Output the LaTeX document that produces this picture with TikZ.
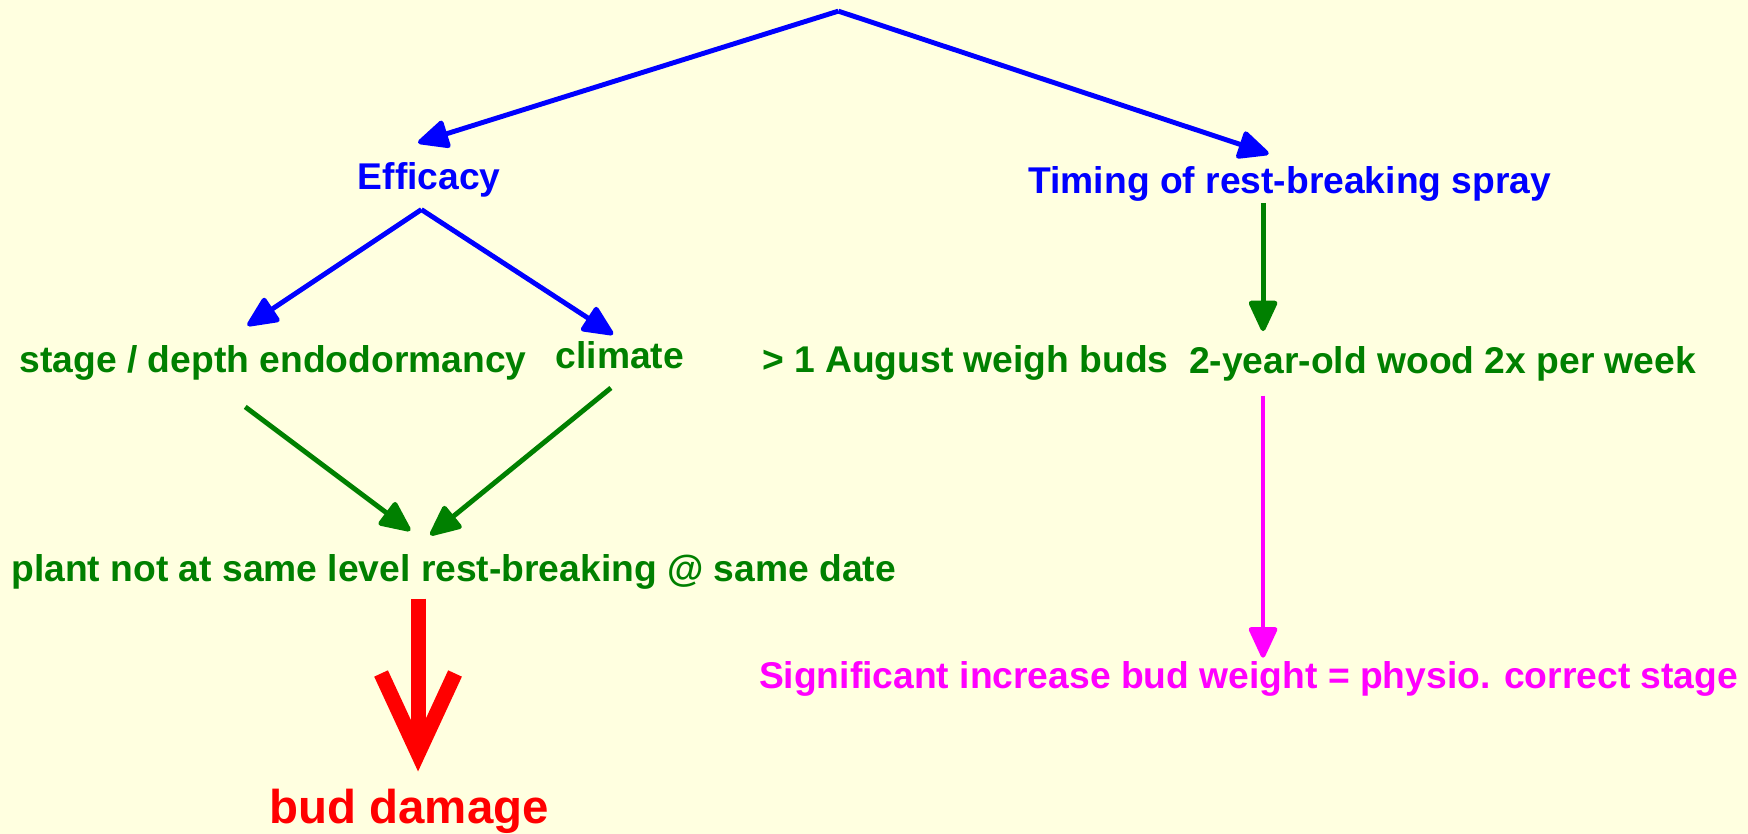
\documentclass[tikz,border=0pt]{standalone}
\usepackage{fontspec}
\setmainfont{Liberation Sans}
\usetikzlibrary{arrows.meta,calc}
\definecolor{bgyellow}{RGB}{255,255,224}
\definecolor{leafgreen}{RGB}{0,128,0}
\definecolor{pink}{RGB}{255,0,255}

\begin{document}
\begin{tikzpicture}
        [x=0.011148cm, y=-0.011148cm,
        every node/.style={font=\fontsize{10.6}{12}\selectfont\bfseries, inner sep=0pt},
        tip/.style={-{Triangle[length=3.4mm,width=3mm,round]}},
        bluelink/.style={draw=blue, line width=1.4pt, tip},
        greenlink/.style={draw=leafgreen, line width=1.4pt, tip},
        pinklink/.style={draw=pink, line width=1.3pt, tip},
        redlink/.style={draw=red, line width=4.3pt, -{Straight Barb[length=8mm,width=7.4mm]}}]
        \useasboundingbox (0,0) rectangle (1568,748);
        \fill[bgyellow] (0,0) rectangle (1568,748);
        \coordinate (top) at (752,10);
        \node[text=blue] (eff) at (385,161) {Efficacy};
        \node[text=blue] (timing) at (1157,165) {Timing of rest-breaking spray};
        \node[text=leafgreen] (stage) at (245,326) {stage / depth endodormancy};
        \node[text=leafgreen] (climate) at (556,319) {climate};
        \node[text=leafgreen] (plant) at (407,513) {plant not at same level rest-breaking @ same date};
        \node[text=red, font=\fontsize{13.5}{16}\selectfont\bfseries] (bud) at (367,728) {bud damage};
        \node[text=leafgreen] (weigh) at (866,326) {> 1 August weigh buds};
        \node[text=leafgreen] (wood) at (1294,326) {2-year-old wood 2x per week};
        \node[text=pink] (sig) at (1120,609) {Significant increase bud weight = physio. correct stage};
        % top split
        \draw[bluelink] (top) -- ($(eff)+(-10,-33)$);
        \draw[bluelink] (top) -- ($(timing)+(-19,-27)$);
        % efficacy branch
        \draw[bluelink] ($(eff)+(-7,27)$) -- ($(stage)+(-23,-34)$);
        \draw[bluelink] ($(eff)+(-7,27)$) -- ($(climate)+(-6,-19)$);
        \draw[greenlink] ($(stage)+(-25,39)$) -- ($(plant)+(-39,-37)$);
        \draw[greenlink] ($(climate)+(-8,29)$) -- ($(plant)+(-21,-33)$);
        \draw[redlink] ($(plant)+(-32,24)$) -- ($(bud)+(8,-36)$);
        % timing branch
        \draw[greenlink] ($(timing)+(-24,17)$) -- ($(wood)+(-161,-29)$);
        \draw[pinklink] ($(wood)+(-161,29)$) -- ($(sig)+(13,-19)$);
\end{tikzpicture}
\end{document}
